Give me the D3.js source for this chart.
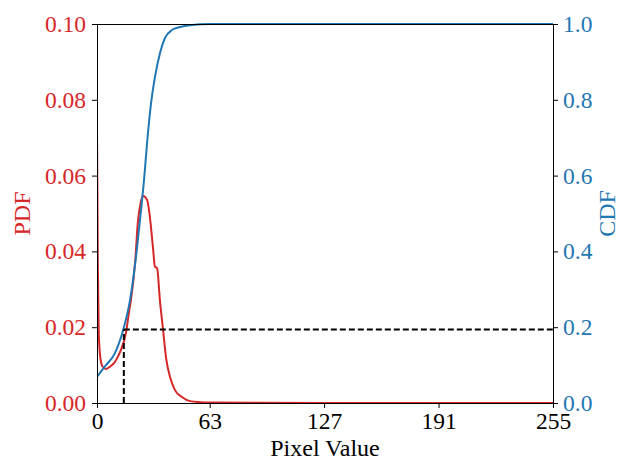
<!DOCTYPE html>
<html>
<head>
<meta charset="utf-8">
<script src="https://cdn.jsdelivr.net/npm/d3@7"></script>
<style>
  html, body { margin: 0; padding: 0; background: #fff; }
  svg text { font-family: "Liberation Serif", "Times New Roman", serif; }
</style>
</head>
<body>
<svg id="chart" width="621" height="462"></svg>
<script>
// ---- data ----
const pdfX = [0, 0.5, 1, 2, 3, 5, 7, 9.5, 12, 13.4, 16.2, 17.9, 19.0, 21.3, 22.9, 24.5, 25.7, 28.0, 29.6, 31.3, 32.4, 33.6, 35.2, 36.9, 38.6, 40.8, 43.6, 47.5, 52, 57.6, 63, 127, 191, 255];
const pdfY = [0.072, 0.035, 0.018, 0.0115, 0.0097, 0.009, 0.0095, 0.0105, 0.0125, 0.014, 0.0185, 0.024, 0.0272, 0.037, 0.048, 0.053, 0.0546, 0.0536, 0.049, 0.041, 0.036, 0.0356, 0.027, 0.0195, 0.012, 0.0069, 0.0034, 0.0016, 0.0005, 0.0002, 0.0001, 0, 0, 0];
const cdfX = [0, 5, 9.5, 14.7, 18.5, 22.4, 25.2, 26.3, 28.0, 30.2, 32.4, 35.2, 38.0, 41.9, 46.4, 52, 63, 127, 191, 255];
const cdfY = [0.069, 0.10, 0.127, 0.194, 0.272, 0.41, 0.536, 0.588, 0.686, 0.79, 0.86, 0.923, 0.963, 0.984, 0.992, 0.997, 1.0, 1.0, 1.0, 1.0];
const thresholdX = 15;
const thresholdCdf = 0.194;
const xTicks = [0, 63, 127, 191, 255];
const pdfTicks = [0, 0.02, 0.04, 0.06, 0.08, 0.10];
const cdfTicks = [0, 0.2, 0.4, 0.6, 0.8, 1.0];

const RED = "#d62728", BLUE = "#1f77b4";
const svg = d3.select("#chart");
const mLeft = 97, mRight = 553, mTop = 24, mBottom = 403;

const x = d3.scaleLinear().domain([0, 255]).range([mLeft, mRight]);
const yL = d3.scaleLinear().domain([0, 0.1]).range([mBottom, mTop]);
const yR = d3.scaleLinear().domain([0, 1]).range([mBottom, mTop]);

svg.append("defs").append("clipPath").attr("id", "clip")
  .append("rect").attr("x", mLeft).attr("y", mTop - 1).attr("width", mRight - mLeft).attr("height", mBottom - mTop + 2);

const g = svg.append("g").attr("clip-path", "url(#clip)");

const pdfData = pdfX.map((v, i) => [v, pdfY[i]]);
const cdfData = cdfX.map((v, i) => [v, cdfY[i]]);

g.append("path").datum(pdfData)
  .attr("fill", "none").attr("stroke", RED).attr("stroke-width", 2)
  .attr("d", d3.line().x(d => x(d[0])).y(d => yL(d[1])).curve(d3.curveMonotoneX));

g.append("path").datum(cdfData)
  .attr("fill", "none").attr("stroke", BLUE).attr("stroke-width", 2)
  .attr("d", d3.line().x(d => x(d[0])).y(d => yR(d[1])).curve(d3.curveMonotoneX));

// threshold dashed lines
g.append("line")
  .attr("x1", x(thresholdX)).attr("x2", x(thresholdX))
  .attr("y1", yR(0)).attr("y2", yR(thresholdCdf))
  .attr("stroke", "#000").attr("stroke-width", 2).attr("stroke-dasharray", "6,3");
g.append("line")
  .attr("x1", x(thresholdX)).attr("x2", x(255))
  .attr("y1", yR(thresholdCdf)).attr("y2", yR(thresholdCdf))
  .attr("stroke", "#000").attr("stroke-width", 2).attr("stroke-dasharray", "6,3");

// axes
const fontSize = 23.5;
const xAxis = svg.append("g").attr("transform", `translate(0,${mBottom})`)
  .call(d3.axisBottom(x).tickValues(xTicks).tickSize(5).tickPadding(4).tickFormat(d3.format("d")));
xAxis.selectAll("text").attr("font-size", fontSize).attr("fill", "#000");

const lAxis = svg.append("g").attr("transform", `translate(${mLeft},0)`)
  .call(d3.axisLeft(yL).tickValues(pdfTicks).tickSize(5).tickPadding(6).tickFormat(d3.format(".2f")));
lAxis.selectAll("text").attr("font-size", fontSize).attr("fill", RED);

const rAxis = svg.append("g").attr("transform", `translate(${mRight},0)`)
  .call(d3.axisRight(yR).tickValues(cdfTicks).tickSize(5).tickPadding(5).tickFormat(d3.format(".1f")));
rAxis.selectAll("text").attr("font-size", fontSize).attr("fill", BLUE);

[xAxis, lAxis, rAxis].forEach(a => {
  a.select(".domain").remove();
  a.selectAll(".tick line").attr("stroke", "#000").attr("stroke-width", 1);
});

// frame
svg.append("rect").attr("x", mLeft + 0.5).attr("y", mTop + 0.5).attr("width", mRight - mLeft).attr("height", mBottom - mTop)
  .attr("fill", "none").attr("stroke", "#000").attr("stroke-width", 1);

// labels
svg.append("text").attr("x", (mLeft + mRight) / 2).attr("y", 456)
  .attr("text-anchor", "middle").attr("font-size", 24).attr("fill", "#000").text("Pixel Value");
svg.append("text").attr("transform", `translate(30,${(mTop + mBottom) / 2}) rotate(-90)`)
  .attr("text-anchor", "middle").attr("font-size", 24).attr("fill", RED).text("PDF");
svg.append("text").attr("transform", `translate(615,${(mTop + mBottom) / 2}) rotate(-90)`)
  .attr("text-anchor", "middle").attr("font-size", 24).attr("fill", BLUE).text("CDF");
</script>
</body>
</html>
